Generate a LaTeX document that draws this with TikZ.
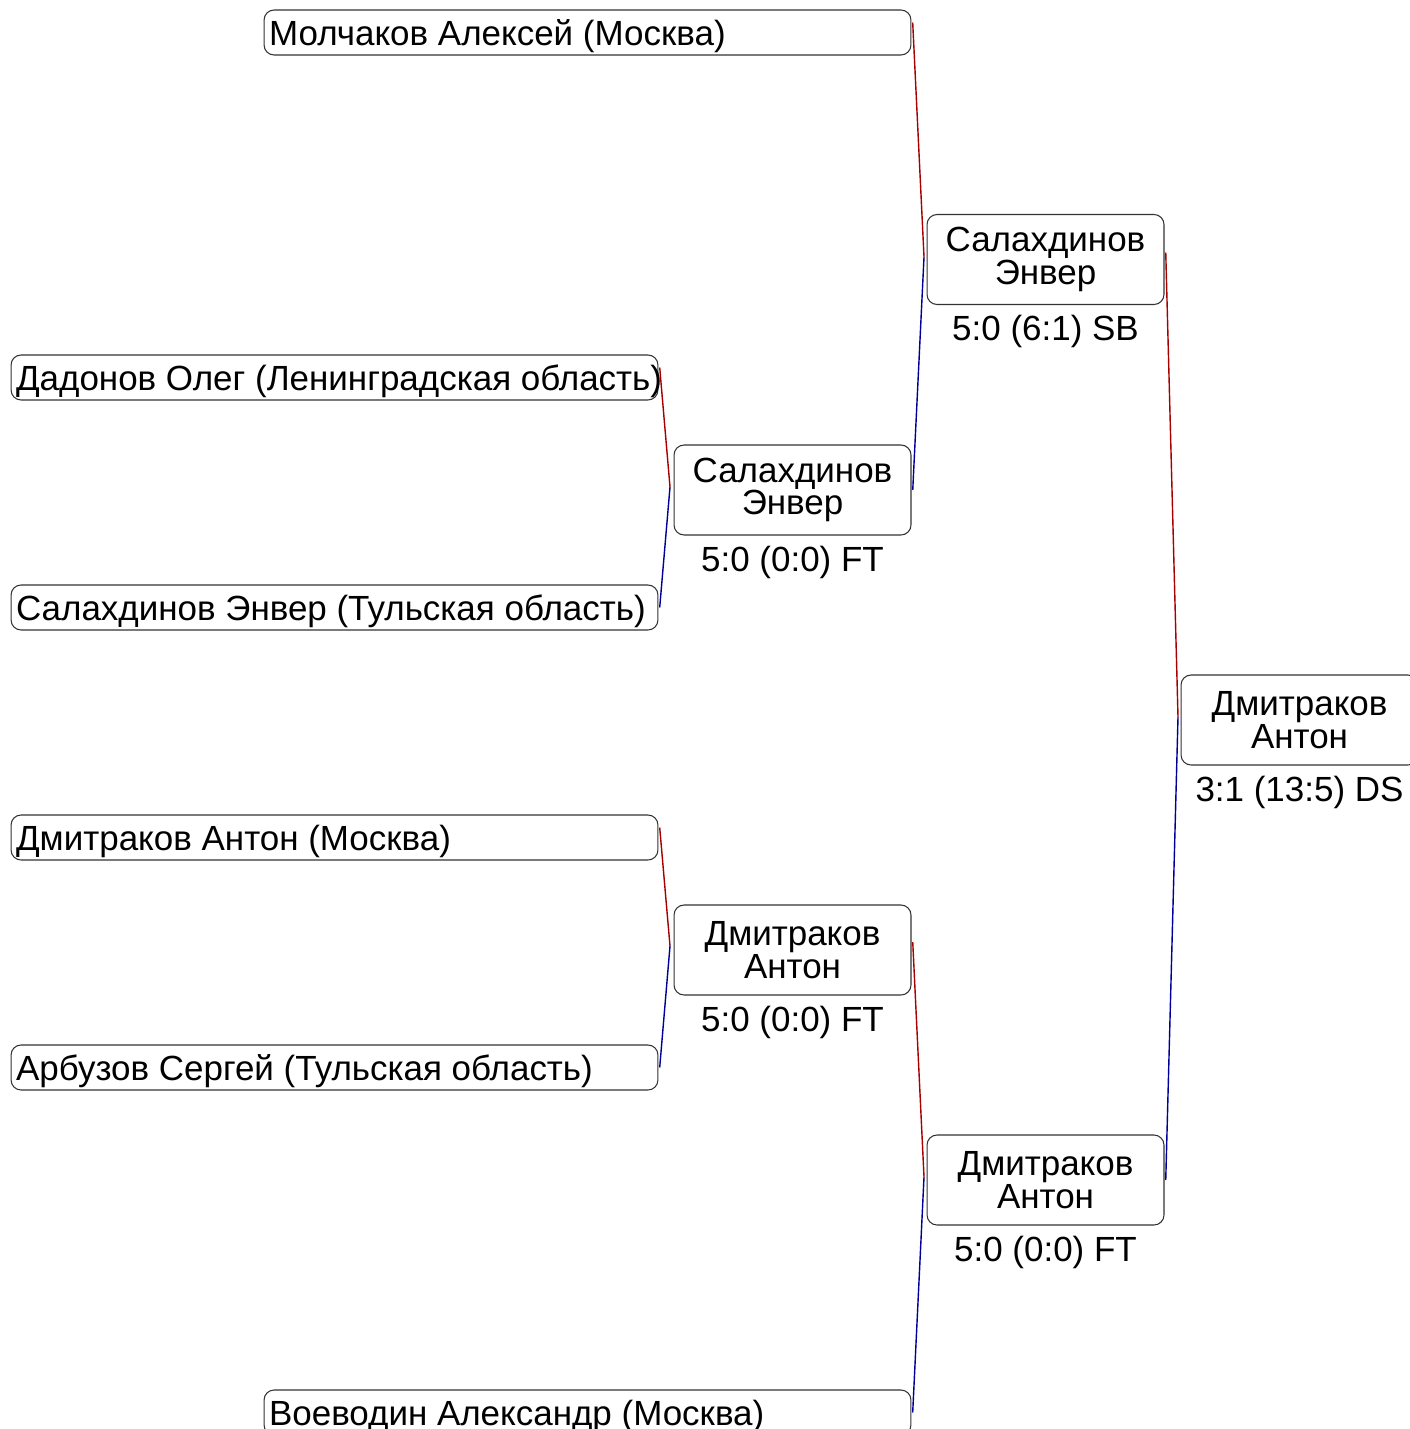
\documentclass[tikz,border=0pt]{standalone}
\usepackage{fontspec}
\setmainfont{Liberation Sans}
\usetikzlibrary{positioning}

\begin{document}
\begin{tikzpicture}[x=0.02cm, y=-0.02cm,
    font=\fontsize{19.9}{18.6}\selectfont,
    player/.style={draw=black!80, line width=0.6pt, rounded corners=0.2cm,
        minimum height=0.9cm, inner xsep=0.1cm, inner ysep=0pt,
        text depth=0pt, outer sep=1pt,
        execute at begin node={\hbox to 12.74cm\bgroup},
        execute at end node={\hss\egroup}},
    winner/.style={draw=black!80, line width=0.6pt, rounded corners=0.2cm,
        minimum width=4.74cm, minimum height=1.8cm, inner sep=0pt,
        align=center, outer sep=1pt},
    score/.style={inner sep=0pt},
    upper/.style={draw=red!65!black, line width=0.8pt},
    lower/.style={draw=blue!60!black, line width=0.8pt}]
    \useasboundingbox (0, 0) rectangle (1409, 1429);
    % players.
    \node[player] (molchakov) at (587.5, 32.5) {Молчаков Алексей (Москва)};
    \node[player] (dadonov) at (334.5, 377.5) {Дадонов Олег (Ленинградская область)};
    \node[player] (salakhdinov) at (334.5, 607.5) {Салахдинов Энвер (Тульская область)};
    \node[player] (dmitrakov) at (334.5, 837.5) {Дмитраков Антон (Москва)};
    \node[player] (arbuzov) at (334.5, 1067.5) {Арбузов Сергей (Тульская область)};
    \node[player] (voevodin) at (587.5, 1412.5) {Воеводин Александр (Москва)};
    % first round.
    \node[winner] (first top) at (792.5, 490) {Салахдинов\\Энвер};
    \node[score, below=5pt of first top] (first top score) {5:0 (0:0) FT};
    \node[winner] (first bottom) at (792.5, 950) {Дмитраков\\Антон};
    \node[score, below=5pt of first bottom] (first bottom score) {5:0 (0:0) FT};
    % second round.
    \node[winner] (second top) at (1045.5, 259.5) {Салахдинов\\Энвер};
    \node[score, below=5pt of second top] (second top score) {5:0 (6:1) SB};
    \node[winner] (second bottom) at (1045.5, 1180) {Дмитраков\\Антон};
    \node[score, below=5pt of second bottom] (second bottom score) {5:0 (0:0) FT};
    % final.
    \node[winner] (final) at (1299.5, 720) {Дмитраков\\Антон};
    \node[score, below=5pt of final] (final score) {3:1 (13:5) DS};
    % joins.
    \coordinate (join a) at (670, 487);
    \coordinate (join b) at (670, 946);
    \coordinate (join c) at (924, 257);
    \coordinate (join d) at (924, 1177);
    \coordinate (join e) at (1178, 717);
    % connectors.
    \draw[upper] ([yshift=0.2cm]dadonov.east) -- (join a);
    \draw[lower] (join a) -- (salakhdinov.east);
    \draw[upper] ([yshift=0.2cm]dmitrakov.east) -- (join b);
    \draw[lower] (join b) -- (arbuzov.east);
    \draw[upper] ([yshift=0.2cm]molchakov.east) -- (join c);
    \draw[lower] (join c) -- (first top.east);
    \draw[upper] ([yshift=0.16cm]first bottom.east) -- (join d);
    \draw[lower] (join d) -- (voevodin.east);
    \draw[upper] ([yshift=0.14cm]second top.east) -- (join e);
    \draw[lower] (join e) -- (second bottom.east);
\end{tikzpicture}
\end{document}
